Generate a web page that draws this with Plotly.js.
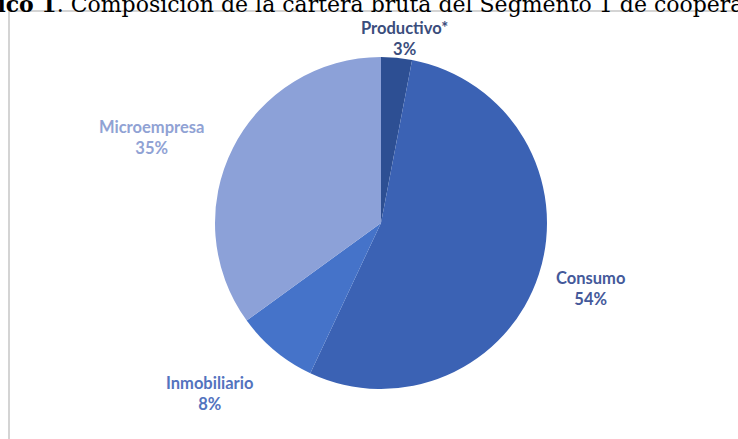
<!DOCTYPE html>
<html>
<head>
<meta charset="utf-8">
<script src="https://cdn.plot.ly/plotly-3.0.1.min.js"></script>
<style>html,body{margin:0;padding:0;background:#fff;}#chart{width:738px;height:439px;}</style>
</head>
<body>
<div id="chart"></div>
<script>
const categories = ["Productivo*", "Consumo", "Inmobiliario", "Microempresa"];
const values = [3, 54, 8, 35];
const sliceColors = ["#2d4f93", "#3b62b4", "#4573c9", "#8ca1d8"];
const labelColors = ["#3a4d7c", "#44599a", "#5373be", "#90a2d4"];
const titleText = "<b>Gráfico 1</b>. Composición de la cartera bruta del Segmento 1 de cooperativas de ahorro y crédito";

// label anchor positions (pixels in the 738x439 page)
const labelPos = [[404, 38], [590, 288], [209, 393], [151, 137]];

const W = 738, H = 439;
const total = values.reduce((a, b) => a + b, 0);

const trace = {
  type: "pie",
  labels: categories,
  values: values,
  sort: false,
  direction: "clockwise",
  rotation: 0,
  textinfo: "none",
  hoverinfo: "label+percent",
  marker: { colors: sliceColors, line: { width: 0 } },
  domain: { x: [(381 - 166) / W, (381 + 166) / W], y: [(216 - 166) / H, (216 + 166) / H] },
  showlegend: false
};

const annotations = categories.map((c, i) => ({
  xref: "paper", yref: "paper",
  x: labelPos[i][0] / W, y: 1 - labelPos[i][1] / H,
  xanchor: "center", yanchor: "middle",
  text: "<b>" + c + "<br>" + Math.round(values[i] / total * 100) + "%</b>",
  showarrow: false,
  font: { family: "Lato, 'Noto Sans', sans-serif", size: 16.5, color: labelColors[i] },
  align: "center"
}));

annotations.push({
  xref: "paper", yref: "paper",
  x: -57 / W, y: 1 - 4 / H,
  xanchor: "left", yanchor: "middle",
  text: titleText,
  showarrow: false,
  font: { family: "'DejaVu Serif', serif", size: 22, color: "#000" }
});

const layout = {
  width: W, height: H,
  margin: { l: 0, r: 0, t: 0, b: 0 },
  paper_bgcolor: "#fff",
  plot_bgcolor: "#fff",
  annotations: annotations,
  shapes: [{
    type: "rect", xref: "paper", yref: "paper", layer: "below",
    x0: 9 / W, x1: 1.05, y0: -0.05, y1: 1 - 11 / H,
    line: { color: "#d4d4d4", width: 2 }, fillcolor: "#fff"
  }]
};

Plotly.newPlot("chart", [trace], layout, { displayModeBar: false, staticPlot: true });
</script>
</body>
</html>
